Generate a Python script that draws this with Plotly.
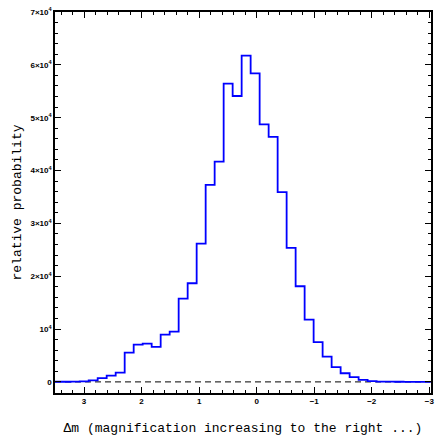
import plotly.graph_objects as go

# Histogram of magnitude shifts: bins run from large positive dm (left) to negative dm (right)
first_edge = 3.545          # upper edge of the left-most bin
bin_width = 0.15638
counts = [
    30, 30, 50, 100, 300, 700, 1200, 1760,
    5540, 7060, 7250, 6620, 8950, 9520, 15760, 18670,
    26160, 37270, 41680, 56430, 54100, 61730, 58400, 48750,
    46350, 35900, 25350, 18100, 11790, 7510, 4790, 2780,
    1640, 890, 380, 130, 60, 40, 30, 20, 15, 10,
]

y_tick_vals = [0, 10000, 20000, 30000, 40000, 50000, 60000, 70000]
y_tick_text = ["0", "10<sup>4</sup>", "2×10<sup>4</sup>", "3×10<sup>4</sup>",
               "4×10<sup>4</sup>", "5×10<sup>4</sup>", "6×10<sup>4</sup>", "7×10<sup>4</sup>"]
x_tick_vals = [3, 2, 1, 0, -1, -2, -3]
x_tick_text = ["3", "2", "1", "0", "−1", "−2", "−3"]

x_range = [3.505, -3.03]
y_range = [-2100, 70000]

edges = [first_edge - i * bin_width for i in range(len(counts) + 1)]
step_y = counts + [counts[-1]]

fig = go.Figure()

# dashed zero baseline
fig.add_trace(go.Scatter(
    x=x_range, y=[0, 0], mode="lines",
    line=dict(color="black", width=1, dash="6px,4px"),
    hoverinfo="skip", showlegend=False,
))

# step outline of the histogram
fig.add_trace(go.Scatter(
    x=edges, y=step_y, mode="lines",
    line=dict(color="#0000ff", width=1.8, shape="hv"),
    showlegend=False,
))

tick_font = dict(family="Liberation Sans, Arial, sans-serif", size=8, color="black")
title_font = dict(family="Liberation Mono, Courier New, monospace", size=13, color="black")

fig.update_xaxes(
    range=x_range, showgrid=False, zeroline=False,
    showline=True, linecolor="black", linewidth=1.5, mirror="allticks",
    ticks="inside", ticklen=6, tickwidth=1.2, tickcolor="black",
    tickvals=x_tick_vals, ticktext=[f"<b>{t}</b>" for t in x_tick_text],
    tickfont=tick_font,
    minor=dict(ticks="inside", dtick=0.2, tick0=0, ticklen=3, tickwidth=1, tickcolor="black"),
    title=dict(text="Δm (magnification increasing to the right ...)", font=title_font, standoff=18),
)
fig.update_yaxes(
    range=y_range, showgrid=False, zeroline=False,
    showline=True, linecolor="black", linewidth=1.5, mirror="allticks",
    ticks="inside", ticklen=6, tickwidth=1.2, tickcolor="black",
    tickvals=y_tick_vals, ticktext=[f"<b>{t}</b>" for t in y_tick_text],
    tickfont=tick_font,
    minor=dict(ticks="inside", dtick=2000, tick0=0, ticklen=3, tickwidth=1, tickcolor="black"),
    title=dict(text="relative probability", font=title_font, standoff=6),
)

fig.update_layout(
    width=438, height=439,
    margin=dict(l=55, r=4, t=12, b=46),
    paper_bgcolor="white", plot_bgcolor="white",
)

fig.write_html("out.html")
